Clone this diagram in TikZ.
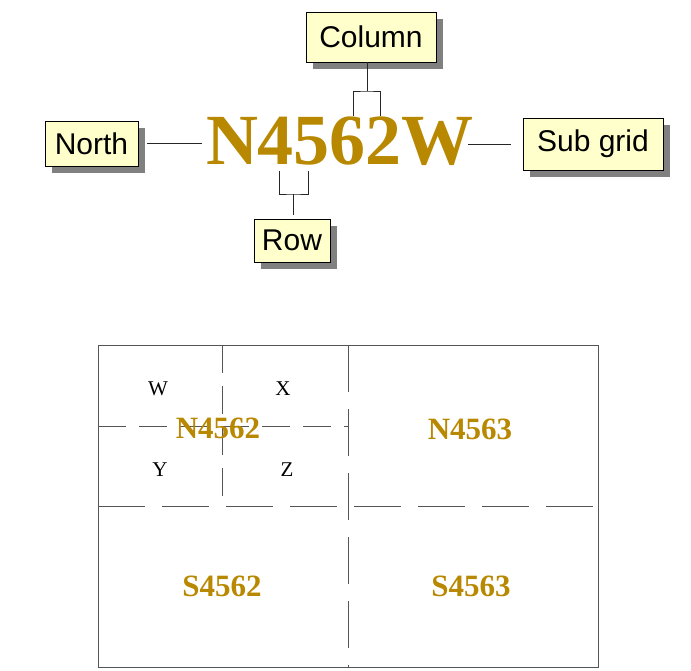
\documentclass[tikz,border=0pt]{standalone}
\usepackage{fontspec}
\setmainfont{Liberation Serif}
\newfontfamily\tagfont{Liberation Sans}
\usetikzlibrary{shadows}
\definecolor{codegold}{RGB}{184,136,0}
\definecolor{tagfill}{RGB}{255,255,204}
\definecolor{tagshade}{RGB}{128,128,128}
\definecolor{gridgray}{RGB}{85,85,85}
\tikzset{
  tag/.style={draw=black,line width=0.8pt,fill=tagfill,inner sep=0pt,
    font=\tagfont\fontsize{30}{31}\selectfont,
    drop shadow={shadow xshift=7pt,shadow yshift=-7pt,fill=tagshade,opacity=1}},
  link/.style={black!85,line width=0.8pt},
  cell/.style={text=codegold,font=\fontsize{31}{32}\selectfont\bfseries},
  quarter/.style={font=\fontsize{21}{21}\selectfont},
  gridline/.style={gridgray,line width=0.9pt},
  majordash/.style={gridgray,line width=0.9pt,dash pattern=on 47pt off 17pt},
  minordash/.style={gridgray,line width=0.9pt,dash pattern=on 28pt off 13pt}
}
\begin{document}
\begin{tikzpicture}[x=1pt,y=-1pt]
      \useasboundingbox (0,0) rectangle (691,670);
      \node[text=codegold,inner sep=0pt,font=\fontsize{72}{72}\selectfont\bfseries]
            (code) at (340,141.5) {N4562W};
      \node[tag,minimum width=93pt,minimum height=45pt] (north) at (91.5,143.5) {North};
      \node[tag,minimum width=140pt,minimum height=52pt] (subgrid) at (593,144) {Sub grid};
      \node[tag,minimum width=130pt,minimum height=50pt] (column) at (371,37) {Column};
      \node[tag,minimum width=76pt,minimum height=43pt] (row) at (292,240.5) {Row};
      \coordinate (colL) at (353,116);
      \coordinate (colR) at (380,116);
      \coordinate (colbar) at (367,91);
      \coordinate (rowL) at (279,171);
      \coordinate (rowR) at (308,171);
      \coordinate (rowbar) at (293,194);
      \draw[link,shorten <=9pt,shorten >=4pt] (north.east) -- (north.east -| code.west);
      \draw[link,shorten <=-6pt,shorten >=12pt] (subgrid.west -| code.east) -- (subgrid.west);
      \draw[link] (colL) |- (colbar) -| (colR);
      \draw[link] (colbar) -- (colbar |- column.south);
      \draw[link] (rowL) |- (rowbar) -| (rowR);
      \draw[link,shorten >=4pt] (rowbar) -- (rowbar |- row.north);

      \draw[majordash] (348,345) -- (348,667);
      \draw[majordash] (98,506) -- (598,506);
      \draw[minordash] (222,345) -- (222,506);
      \draw[minordash] (98,426) -- (348,426);
      \draw[gridline] (98,345) rectangle (598,667);
      \node[quarter] (subw) at (158,389) {W};
      \node[quarter] (subx) at (283,389) {X};
      \node[quarter] (suby) at (160,470) {Y};
      \node[quarter] (subz) at (287,470) {Z};
      \node[cell] (n4562) at (218,428) {N4562};
      \node[cell] (n4563) at (470,429) {N4563};
      \node[cell] (s4562) at (222,586) {S4562};
      \node[cell] (s4563) at (471,586) {S4563};
    \end{tikzpicture}
\end{document}
